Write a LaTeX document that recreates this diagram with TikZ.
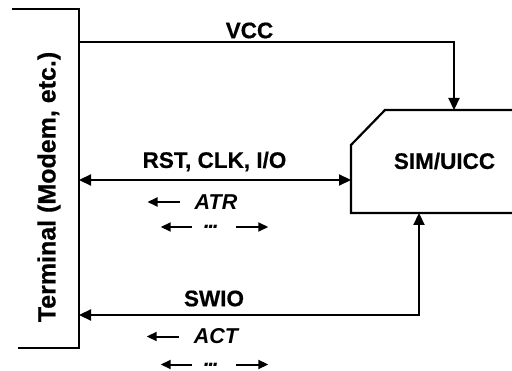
\documentclass[tikz,border=0pt]{standalone}
\usepackage{fontspec}
\setmainfont{Liberation Sans}[BoldFeatures={FakeBold=0.6}]
\usetikzlibrary{arrows.meta,positioning}
\tikzset{
  wire/.style={line width=2.2pt},
  sig/.style={wire,-{Triangle[length=12pt,width=11pt]}},
  bisig/.style={wire,{Triangle[length=12pt,width=11pt]}-{Triangle[length=12pt,width=11pt]}},
  msgarrow/.style={line width=2pt,-{Triangle[length=10pt,width=9pt]}},
  lbl/.style={font=\fontsize{22.5}{26}\selectfont\bfseries,inner sep=0pt},
  msg/.style={font=\fontsize{21.5}{24}\selectfont\bfseries\itshape,inner sep=0pt},
  dots/.style={font=\fontsize{22}{24}\selectfont\bfseries\itshape,inner sep=0pt,anchor=base}
}
\newcommand{\tightdots}{.\kern-1.6pt.\kern-1.6pt.}
\begin{document}
\begin{tikzpicture}[x=1pt,y=1pt]
    \useasboundingbox (0,0) rectangle (512,370);
    %% Terminal
    \draw[wire] (12,361) -- (79,361) -- (79,22) -- (18,22);
    \node[lbl,font=\fontsize{25}{29}\selectfont\bfseries,rotate=90] (term) at (49,183) {Terminal (Modem, etc.)};
    %% SIM card
    \draw[wire] (512,260) -- (385,260) -- (351,225) -- (351,157) -- (512,157);
    \node[lbl] (sim) at (444.5,209) {SIM/UICC};
    %% Connection points
    \coordinate (vccL) at (79,328);
    \coordinate (vccT) at (454,260);
    \coordinate (rstL) at (79,190);
    \coordinate (rstR) at (351,190);
    \coordinate (swL) at (79,55);
    \coordinate (swB) at (419,157);
    %% VCC
    \draw[sig] (vccL) -| (vccT);
    \node[lbl] (vcc) at (249.5,339.5) {VCC};
    %% RST, CLK, I/O
    \draw[bisig] (rstL) -- (rstR);
    \node[lbl] (rst) at (214.5,208.5) {RST, CLK, I/O};
    \node[msg] (atr) at (216,168) {ATR};
    \draw[msgarrow] ([xshift=-15pt]atr.west) -- ++(-32,0);
    \node[dots] (atrdots) at (211.5,141.5) {\tightdots};
    \draw[msgarrow] ([xshift=-12pt,yshift=1.5pt]atrdots.base west) -- ++(-31,0);
    \draw[msgarrow] ([xshift=17pt,yshift=1.5pt]atrdots.base east) -- ++(32,0);
    %% SWIO
    \draw[bisig] (swL) -| (swB);
    \node[lbl] (swio) at (214,71.5) {SWIO};
    \node[msg] (act) at (216,33.5) {ACT};
    \draw[msgarrow] ([xshift=-15pt]act.west) -- ++(-32,0);
    \node[dots] (actdots) at (211.5,4) {\tightdots};
    \draw[msgarrow] ([xshift=-12pt,yshift=1.5pt]actdots.base west) -- ++(-31,0);
    \draw[msgarrow] ([xshift=17pt,yshift=1.5pt]actdots.base east) -- ++(32,0);
\end{tikzpicture}
\end{document}
